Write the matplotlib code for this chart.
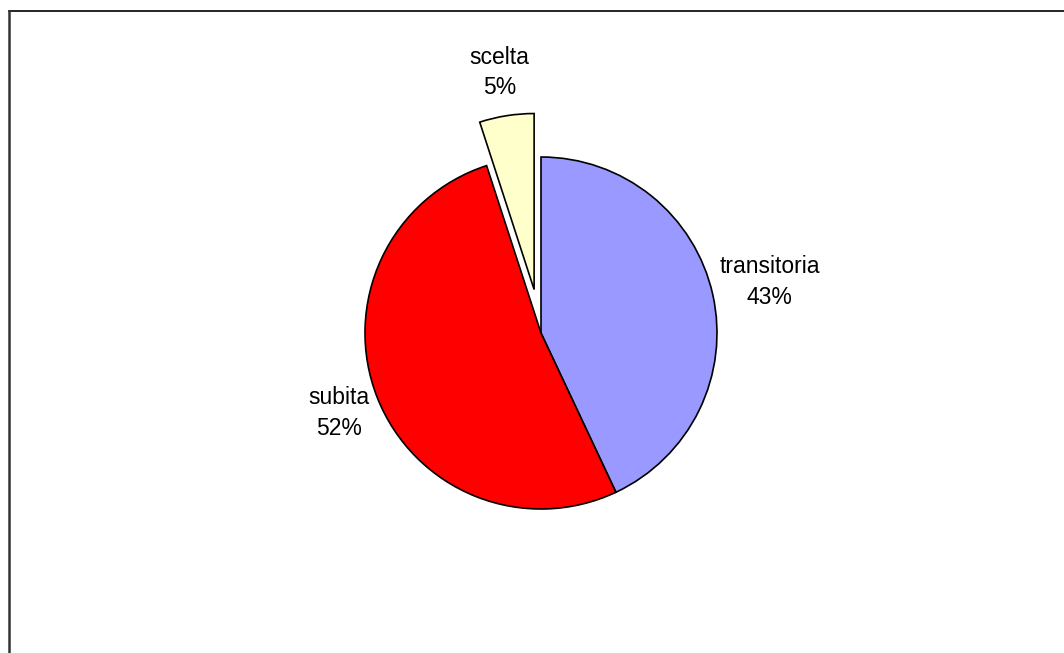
import numpy as np
import matplotlib.pyplot as plt
from matplotlib.lines import Line2D

labels = ['transitoria', 'subita', 'scelta']
values = [43, 52, 5]
colors = ['#9999FF', '#FF0000', '#FFFFCC']
explode = [0, 0, 0.25]
label_dist = [1.33, 1.235, 1.25]

plt.rcParams['font.family'] = ['Liberation Sans', 'DejaVu Sans']

W, H = 1064, 653
cx, cy, r = 541, 333, 176  # pie centre / radius in pixels

fig = plt.figure(figsize=(W / 100, H / 100), dpi=100)
ax = fig.add_axes([0, 0, 1, 1])
wedges, _ = ax.pie(values, colors=colors, explode=explode, startangle=90,
                   counterclock=False, radius=1,
                   wedgeprops=dict(edgecolor='black', linewidth=1.2))

# labels
total = sum(values)
ang = 90
for lab, v, d, e in zip(labels, values, label_dist, explode):
    mid = np.deg2rad(ang - v / total * 180)
    ang -= v / total * 360
    dd = d + e
    ax.text(dd * np.cos(mid), dd * np.sin(mid), f'{lab}\n{v}%',
            ha='center', va='center', fontsize=16.5, linespacing=1.4)

ax.set_xlim(-cx / r, (W - cx) / r)
ax.set_ylim(-(H - cy) / r, cy / r)
ax.set_aspect('auto')
ax.axis('off')

# chart-area frame (cut off on right and bottom)
fig.add_artist(Line2D([8.5 / W, 1], [1 - 11 / H] * 2, color='black', lw=1.2,
                      transform=fig.transFigure))
fig.add_artist(Line2D([8.5 / W] * 2, [0, 1 - 11 / H], color='#333333', lw=1.8,
                      transform=fig.transFigure))

fig.savefig('out.png', dpi=100)
